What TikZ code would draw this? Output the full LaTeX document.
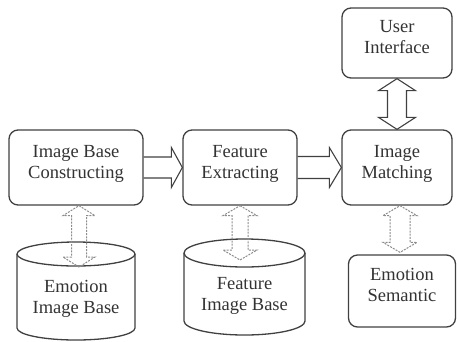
\documentclass[tikz,border=0pt]{standalone}
\usepackage{fontspec}
\setmainfont{Liberation Serif}
\usetikzlibrary{calc}
\newcommand{\myvdarrow}[6]{%
  \draw[#1] (#2) -- ($(#2)+(#4,#6)$) -- ($(#2)+(#5,#6)$) -- ($(#3)+(#5,-#6)$) -- ($(#3)+(#4,-#6)$) -- (#3)
    -- ($(#3)+(-#4,-#6)$) -- ($(#3)+(-#5,-#6)$) -- ($(#2)+(-#5,#6)$) -- ($(#2)+(-#4,#6)$) -- cycle;}
\newcommand{\myharrow}[6]{%
  \draw[#1] ($(#2)+(0,-#5)$) -- ($(#3)+(-#6,-#5)$) -- ($(#3)+(-#6,-#4)$) -- (#3) -- ($(#3)+(-#6,#4)$)
    -- ($(#3)+(-#6,#5)$) -- ($(#2)+(0,#5)$);}
\begin{document}
\begin{tikzpicture}[x=1pt,y=-1pt,
  box/.style={draw=black!75, line width=1.3pt, rounded corners=9pt, align=center,
    font=\fontsize{18.5}{21}\selectfont, text=black!80, inner sep=0pt, text depth=12pt},
  txt/.style={align=center, font=\fontsize{18.5}{21}\selectfont, text=black!80, inner sep=0pt},
  cyl/.style={draw=black!75, line width=1.3pt},
  solidarrow/.style={draw=black!75, line width=1.1pt, line join=miter},
  dasharrow/.style={draw=black!45, line width=1pt, dash pattern=on 2pt off 1.2pt}]
\useasboundingbox (0,0) rectangle (457,341);
% boxes
\node[box, minimum width=134, minimum height=75] (ibc) at (76,167.5) {Image Base\\Constructing};
\node[box, minimum width=114, minimum height=75] (fe) at (240,167.5) {Feature\\Extracting};
\node[box, minimum width=110, minimum height=75] (im) at (397,167.5) {Image\\Matching};
\node[box, minimum width=110, minimum height=70] (ui) at (397,43) {User\\Interface};
\node[box, minimum width=107, minimum height=72] (es) at (402,291) {Emotion\\Semantic};
% cylinder 1
\draw[cyl] (17,254) -- (17,328) arc[start angle=180,end angle=0,x radius=59,y radius=12] -- (135,254);
\draw[cyl] (76,254) ellipse[x radius=59,y radius=12];
\node[txt] (eib) at (76,299) {Emotion\\Image Base};
\coordinate (eibtop) at (79,267);
% cylinder 2
\draw[cyl] (184,253) -- (184,321) arc[start angle=180,end angle=0,x radius=60.5,y radius=14] -- (305,253);
\draw[cyl] (244.5,253) ellipse[x radius=60.5,y radius=14];
\node[txt] (fib) at (244.5,296) {Feature\\Image Base};
\coordinate (fibtop) at (240,260);
% connectors
\myharrow{solidarrow}{ibc.east}{fe.west}{20}{10.5}{11}
\myharrow{solidarrow}{fe.east}{im.west}{20}{11}{12}
\myvdarrow{solidarrow}{ui.south}{im.north}{18.5}{9.5}{12}
\coordinate (a1) at ($(ibc.south)+(3,0)$);
\myvdarrow{dasharrow}{a1}{eibtop}{16}{7.5}{10}
\myvdarrow{dasharrow}{fe.south}{fibtop}{17}{8}{10}
\coordinate (a3) at ($(im.south)+(3,0)$);
\coordinate (a3b) at ($(es.north)+(-2,-2)$);
\myvdarrow{dasharrow}{a3}{a3b}{17}{10}{10}
\end{tikzpicture}
\end{document}
